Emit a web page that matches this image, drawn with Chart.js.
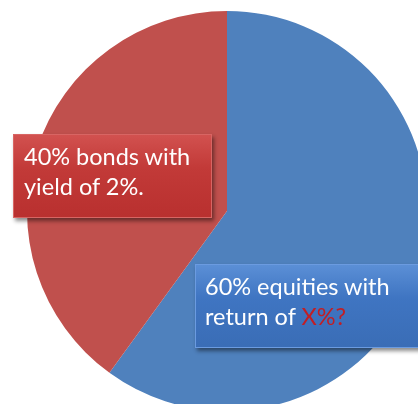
<!DOCTYPE html>
<html>
<head>
<meta charset="utf-8">
<script src="https://cdn.jsdelivr.net/npm/chart.js@4"></script>
<style>
  html, body { margin: 0; padding: 0; width: 418px; height: 404px; overflow: hidden; background: #ffffff; }
  #wrap { position: absolute; left: 27px; top: 11px; width: 400px; height: 400px; }
  .lbl { position: absolute; box-sizing: border-box; color: #ffffff; font-family: Lato, "Open Sans", sans-serif; font-size: 23.5px; line-height: 30px; padding: 6px 0 0 10px; box-shadow: 2px 3px 4px rgba(0,0,0,0.45); }
  #l1 { left: 13px; top: 134px; width: 199px; height: 84px; background: linear-gradient(#d2514f, #c23a38 40%, #b9302f); border: 1px solid #d86563; }
  #l2 { left: 195px; top: 264px; width: 226px; height: 84px; background: linear-gradient(#5b8fd6, #3f75c2 40%, #3a6db6); border: 1px solid #6b9be0; padding-left: 9px; }
  .q { color: #c21e24; }
</style>
</head>
<body>
<div id="wrap"><canvas id="c"></canvas></div>
<div class="lbl" id="l1">40% bonds with<br>yield of 2%.</div>
<div class="lbl" id="l2">60% equities with<br>return of <span class="q">X%?</span></div>
<script>
const categories = ["Equities", "Bonds"];
const shares = [60, 40];
const colors = ["#4f81bd", "#c0504d"];

new Chart(document.getElementById("c"), {
  type: "pie",
  data: {
    labels: categories,
    datasets: [{ data: shares, backgroundColor: colors, borderWidth: 0 }]
  },
  options: {
    responsive: true,
    maintainAspectRatio: false,
    animation: false,
    layout: { padding: 0 },
    plugins: { legend: { display: false }, tooltip: { enabled: false } }
  }
});
</script>
</body>
</html>
